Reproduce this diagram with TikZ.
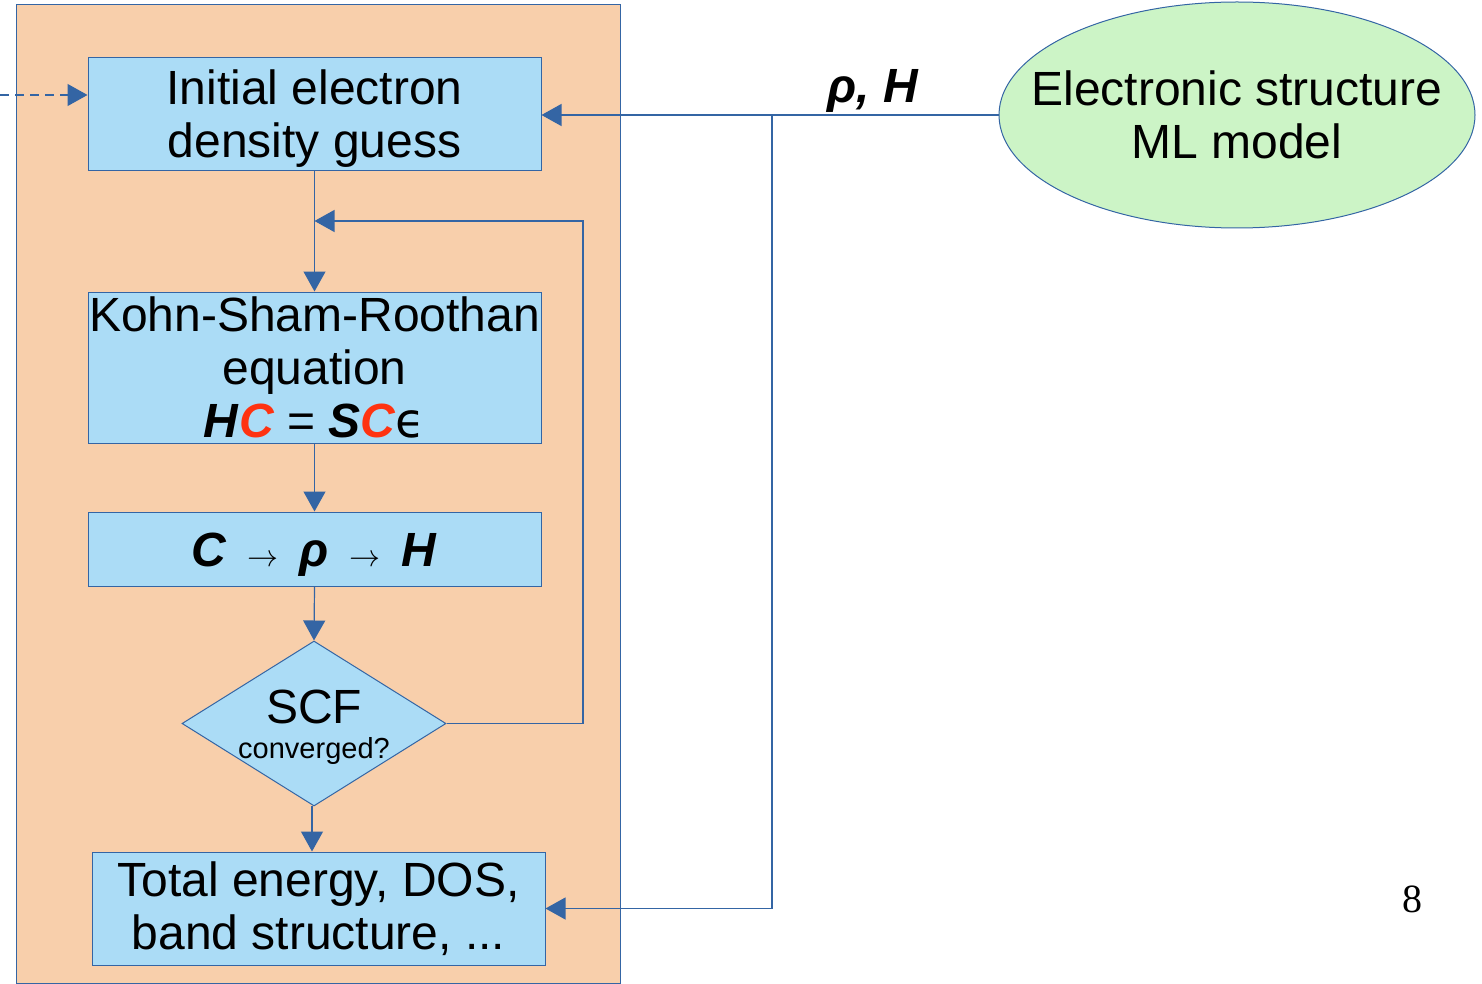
\documentclass[tikz,border=0pt]{standalone}
\usepackage{fontspec}
\setmainfont{Liberation Sans}
\newfontfamily\dejavu{DejaVu Sans}
\newfontfamily\serifnum{Liberation Serif}
\usetikzlibrary{shapes.geometric,arrows.meta}
\definecolor{ln}{HTML}{3465A4}
\definecolor{orfill}{HTML}{F8CFAB}
\definecolor{bxfill}{HTML}{ABDCF6}
\definecolor{grfill}{HTML}{CCF4C6}
\definecolor{redc}{HTML}{FF3311}
\newcommand\bigfnt{\fontsize{48}{53}\selectfont}
\newcommand\rarr{\resizebox{31pt}{!}{\normalsize$\rightarrow$}}
\begin{document}
\begin{tikzpicture}[x=1pt,y=-1pt,
  box/.style={draw=ln, fill=bxfill, inner sep=0pt, align=center, font=\bigfnt, line width=1pt},
  conn/.style={draw=ln, line width=1.2pt, -{Triangle[length=20pt,width=22pt]}, ln},
  txt/.style={inner sep=0pt, align=center, font=\bigfnt}]
\useasboundingbox (0,0) rectangle (1482,984);
% outer panel
\node[draw=ln, fill=orfill, line width=1pt, minimum width=604pt, minimum height=978pt, inner sep=0pt] (panel) at (318,494) {};
% boxes
\node[box, minimum width=453pt, minimum height=113pt] (b1) at (314.5,114.5) {\rule{0pt}{43pt}Initial electron\\density guess};
\node[box, minimum width=453pt, minimum height=151pt] (b2) at (314.5,367.5) {Kohn-Sham-Roothan\\equation\\\textbf{\textit{H}}\textbf{\textit{\color{redc}C}} = \textbf{\textit{S}}\textbf{\textit{\color{redc}C}}{\dejavu ϵ}};
\node[box, minimum width=453pt, minimum height=74pt] (b3) at (314.5,549) {\rule{0pt}{45pt}\textbf{\textit{C}}\hspace{21pt}\rarr\hspace{21pt}\textbf{\textit{ρ}}\hspace{21pt}\rarr\hspace{21pt}\textbf{\textit{H}}};
\node[draw=ln, fill=bxfill, diamond, aspect=1.6, minimum width=264pt, minimum height=165pt, inner sep=0pt, line width=1pt] (scf) at (314,723.5) {};
\node[txt, anchor=base] (scft) at (314,723) {SCF};
\node[inner sep=0pt, anchor=base, font=\fontsize{29}{29}\selectfont] (convt) at (314,758) {converged?};
\node[box, minimum width=453pt, minimum height=113pt] (b4) at (318.5,908.5) {Total energy, DOS,\\band structure, ...};
% ML model
\node[draw=ln, fill=grfill, ellipse, minimum width=476pt, minimum height=226pt, inner sep=0pt, line width=1pt] (ml) at (1237,115) {};
\node[txt] (mlt) at (1237,115) {Electronic structure\\ML model};
\node[inner sep=0pt, anchor=base, font=\bigfnt\bfseries\itshape] (rhoh) at (873,103) {ρ, H};
\node[inner sep=0pt, font=\serifnum\fontsize{40}{40}\selectfont] (pnum) at (1412,899) {8};
% connectors
\coordinate (dstart) at (0,95);
\draw[conn, dash pattern=on 9pt off 6pt] (dstart) -- (b1.west |- dstart);
\draw[conn] (ml.west) -- (b1.east |- ml.west);
\coordinate (br) at (772,115);
\draw[conn] (br) |- (b4.east);
\draw[conn] (b1.south) -- (b2.north);
\coordinate (lp) at (583,221);
\draw[conn] (scf.east) -| (lp) -- (b1.south |- lp);
\draw[conn] (b2.south) -- (b3.north);
\draw[conn] (b3.south) -- (scf.north);
\coordinate (sb) at (312,806);
\draw[conn] (sb) -- (b4.north -| sb);
\end{tikzpicture}
\end{document}
